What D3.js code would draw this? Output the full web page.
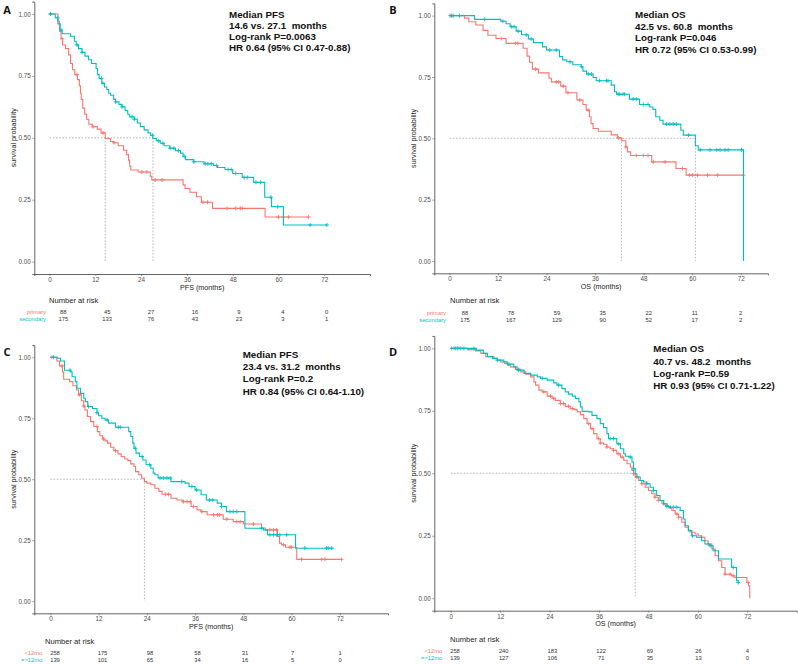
<!DOCTYPE html>
<html>
<head>
<meta charset="utf-8">
<script src="https://cdnjs.cloudflare.com/ajax/libs/d3/7.8.5/d3.min.js"></script>
<style>
  body { margin: 0; background: #fff; }
  svg { display: block; }
</style>
</head>
<body>
<svg id="chart" width="798" height="664"></svg>
<script>
// ---- shared ticks ----
const xTicks = [0, 12, 24, 36, 48, 60, 72];
const yTicks = [0, 0.25, 0.5, 0.75, 1];
const riskTimes = [0, 12, 24, 36, 48, 60, 72];

// ---- Panel A: PFS, primary vs secondary ----
const aPrimary = [[0,1],[2.2,0.97],[2.6,0.93],[3.0,0.9],[3.4,0.875],[4.2,0.86],[5.0,0.835],[5.5,0.8],[6.0,0.775],[6.6,0.755],[7.3,0.735],[7.8,0.71],[8.1,0.68],[8.3,0.655],[8.7,0.62],[9.2,0.595],[9.7,0.575],[10.3,0.555],[11.2,0.545],[12.5,0.535],[13.5,0.52],[14.6,0.497],[16.0,0.485],[16.8,0.48],[18.0,0.468],[19.4,0.45],[20.2,0.432],[20.7,0.41],[21.0,0.385],[21.3,0.37],[23.2,0.362],[26.4,0.345],[26.8,0.33],[35.0,0.31],[35.5,0.295],[36.8,0.28],[38.5,0.262],[39.8,0.24],[42.7,0.215],[56.5,0.18]];
const aPrimaryCens = [0.3,3.3,7.2,11.4,14.0,16.9,24.2,25.5,27.7,29.5,40.2,41.4,46.5,48.8,50.0,50.5,60.0,61.3,62.6,67.9];
const aSecondary = [[0,1],[1.5,0.985],[2.2,0.96],[2.8,0.935],[3.3,0.92],[5.5,0.91],[6.5,0.89],[7.0,0.875],[7.6,0.86],[8.5,0.845],[9.3,0.83],[10.2,0.815],[11.0,0.8],[12.2,0.78],[12.6,0.755],[13.0,0.74],[13.7,0.72],[14.4,0.705],[15.0,0.695],[15.5,0.68],[16.0,0.672],[16.8,0.655],[17.3,0.645],[18.2,0.635],[19.0,0.625],[19.8,0.61],[20.5,0.595],[21.0,0.585],[22.2,0.575],[23.0,0.56],[23.8,0.545],[24.8,0.532],[25.8,0.52],[26.5,0.51],[27.1,0.497],[28.0,0.488],[29.0,0.478],[30.0,0.468],[31.5,0.458],[33.0,0.448],[34.3,0.438],[35.0,0.425],[35.6,0.412],[37.8,0.403],[40.5,0.395],[43.0,0.388],[44.0,0.38],[46.0,0.372],[48.0,0.356],[50.5,0.34],[53.5,0.32],[56.4,0.26],[58.2,0.222],[61.3,0.148]];
const aSecondaryCens = [0.2,2.1,3.0,7.2,8.5,13.6,14.0,17.3,19.0,21.6,22.2,27.0,28.6,29.7,31.6,32.6,33.8,35.3,37.8,40.8,41.5,42.4,43.8,46.8,47.6,48.8,51.0,51.8,54.1,55.3,58.0,59.8,68.3,72.7];
const aRiskPrimary = [88, 45, 27, 16, 9, 4, 0];
const aRiskSecondary = [175, 133, 76, 43, 23, 3, 1];

// ---- Panel B: OS, primary vs secondary ----
const bPrimary = [[0,1],[3.7,0.99],[4.8,0.975],[6.5,0.962],[8.3,0.94],[9.5,0.92],[11.5,0.907],[14.0,0.887],[18.2,0.867],[19.2,0.835],[19.8,0.81],[20.5,0.782],[22.0,0.767],[24.6,0.745],[25.2,0.73],[27.5,0.713],[28.8,0.686],[31.5,0.656],[33.0,0.638],[33.8,0.615],[34.6,0.588],[35.0,0.56],[35.5,0.54],[36.8,0.529],[40.0,0.514],[41.5,0.502],[42.6,0.49],[43.6,0.465],[44.0,0.445],[44.8,0.43],[50.0,0.404],[56.0,0.377],[58.5,0.35]];
const bPrimaryCens = [0.2,12.8,16.3,16.9,21.3,26.4,27.0,28.1,29.3,32.2,34.3,41.8,43.6,46.2,47.9,49.1,50.4,53.3,57.6,59.3,60.1,61.3,63.8,66.3,72.7];
const bSecondary = [[0,1],[6.2,0.985],[12.7,0.977],[14.0,0.967],[15.0,0.955],[16.5,0.937],[17.8,0.922],[19.5,0.905],[20.8,0.89],[23.0,0.873],[24.0,0.86],[27.2,0.833],[28.0,0.82],[29.0,0.812],[30.5,0.8],[32.6,0.792],[33.0,0.774],[33.9,0.762],[35.5,0.748],[36.3,0.735],[40.0,0.717],[40.8,0.69],[41.3,0.68],[44.5,0.66],[47.0,0.638],[49.5,0.628],[50.3,0.618],[51.0,0.588],[52.0,0.574],[52.8,0.558],[57.2,0.533],[57.8,0.513],[60.8,0.47],[61.5,0.453],[72.7,0]];
const bSecondaryCens = [0.5,0.9,2.5,8.7,13.2,15.3,16.0,17.0,19.0,20.2,24.8,26.4,29.8,32.6,34.3,35.1,37.1,38.8,39.2,41.7,42.1,42.9,43.3,45.4,46.2,47.9,49.1,53.7,54.5,55.3,56.1,59.1,62.0,64.4,66.1,66.9,68.1,68.9,72.2];
const bRiskPrimary = [88, 78, 59, 35, 22, 11, 2];
const bRiskSecondary = [175, 167, 129, 90, 52, 17, 2];

// ---- Panel C: PFS, <12mo vs =>12mo ----
const cEarly = [[0,1],[1.6,0.985],[2.3,0.965],[3.0,0.94],[3.3,0.91],[4.8,0.9],[5.6,0.883],[6.5,0.866],[7.0,0.846],[7.7,0.822],[8.3,0.8],[8.6,0.784],[9.2,0.757],[10.0,0.736],[10.8,0.716],[11.7,0.695],[12.3,0.678],[13.0,0.665],[13.6,0.657],[14.2,0.648],[15.0,0.631],[15.8,0.617],[16.8,0.604],[17.6,0.593],[18.5,0.583],[19.3,0.576],[20.0,0.563],[20.8,0.552],[21.2,0.531],[22.0,0.518],[22.7,0.504],[23.4,0.49],[24.0,0.484],[25.0,0.477],[26.0,0.463],[27.0,0.45],[27.8,0.438],[30.0,0.422],[31.5,0.415],[32.8,0.408],[35.0,0.388],[36.5,0.374],[37.5,0.367],[39.0,0.354],[43.0,0.336],[45.5,0.326],[48.0,0.316],[52.5,0.3],[53.5,0.292],[56.5,0.265],[57.0,0.238],[57.5,0.231],[58.5,0.221],[61.3,0.171]];
const cEarlyCens = [0.4,2.9,7.2,8.3,11.6,13.2,16.2,28.6,29.4,33.1,34.0,34.8,35.6,37.7,40.6,41.6,42.1,43.9,46.4,47.2,50.5,54.6,55.5,56.3,58.0,59.6,60.0,62.5,67.5,68.3,72.4];
const cLate = [[0,1],[1.8,0.996],[2.5,0.985],[3.5,0.947],[5.0,0.94],[5.4,0.92],[6.2,0.9],[6.6,0.873],[7.5,0.852],[8.3,0.832],[8.7,0.818],[9.3,0.798],[10.5,0.79],[11.6,0.773],[12.0,0.76],[12.8,0.75],[13.6,0.743],[14.5,0.73],[16.2,0.713],[19.5,0.695],[20.0,0.675],[20.5,0.648],[20.8,0.627],[21.3,0.607],[22.2,0.593],[23.0,0.579],[23.8,0.559],[25.0,0.545],[25.6,0.525],[26.0,0.518],[26.8,0.505],[30.0,0.49],[33.5,0.484],[34.5,0.47],[36.0,0.456],[37.5,0.436],[38.8,0.415],[41.5,0.402],[42.6,0.388],[43.8,0.367],[48.4,0.299],[53.0,0.292],[54.0,0.272],[61.0,0.217]];
const cLateCens = [0.8,4.9,9.5,11.6,14.1,16.9,17.4,21.1,22.8,24.7,27.3,28.1,29.0,29.8,32.7,35.2,36.4,39.6,40.4,42.6,44.7,45.5,46.4,52.6,54.6,55.5,56.3,57.1,58.8,63.3,68.7,69.1,70.0];
const cRiskEarly = [258, 175, 98, 58, 31, 7, 1];
const cRiskLate = [139, 101, 65, 34, 16, 5, 0];

// ---- Panel D: OS, <12mo vs =>12mo ----
const dEarly = [[0,1],[4.0,0.995],[6.0,0.99],[7.3,0.98],[8.5,0.967],[10.5,0.96],[11.3,0.953],[12.1,0.946],[13.0,0.94],[13.8,0.933],[14.5,0.926],[15.7,0.916],[17.0,0.906],[18.2,0.897],[19.4,0.886],[20.2,0.866],[20.6,0.853],[21.4,0.833],[22.2,0.826],[23.4,0.809],[24.6,0.8],[25.4,0.792],[26.6,0.779],[27.8,0.768],[29.0,0.759],[29.9,0.755],[30.7,0.746],[31.5,0.735],[32.3,0.719],[33.1,0.699],[33.9,0.679],[34.7,0.659],[35.5,0.639],[36.3,0.621],[37.1,0.616],[37.9,0.605],[38.7,0.598],[39.5,0.592],[40.3,0.578],[41.2,0.565],[42.0,0.552],[42.8,0.538],[43.6,0.525],[44.0,0.511],[44.4,0.498],[44.8,0.485],[45.6,0.471],[46.4,0.458],[47.2,0.444],[48.0,0.431],[48.8,0.418],[49.6,0.404],[50.4,0.391],[51.3,0.378],[52.1,0.371],[52.9,0.361],[53.7,0.351],[54.5,0.337],[55.3,0.324],[56.1,0.304],[56.9,0.284],[57.7,0.27],[58.5,0.264],[59.3,0.257],[60.1,0.25],[60.9,0.244],[61.7,0.23],[62.5,0.217],[63.4,0.197],[64.2,0.17],[65.0,0.15],[65.8,0.123],[66.6,0.096],[68.2,0.09],[69.0,0.083],[71.9,0.063],[72.3,0.05],[72.6,0.0]];
const dEarlyCens = [0.2,0.8,2.0,16.5,22.6,24.2,25.0,26.6,27.4,28.6,29.5,33.5,34.3,35.9,36.3,37.9,39.5,40.8,41.6,44.4,45.2,46.4,49.6,50.4,51.7,52.5,54.9,55.3,58.1,60.9,62.5,66.6,67.8,68.6,72.2];
const dLate = [[0,1],[6.2,0.993],[7.9,0.98],[8.9,0.967],[10.1,0.96],[11.3,0.953],[12.9,0.946],[13.7,0.937],[15.3,0.926],[16.1,0.913],[17.8,0.9],[19.4,0.893],[21.0,0.886],[21.8,0.88],[23.4,0.873],[25.0,0.862],[25.8,0.853],[27.0,0.839],[27.8,0.826],[28.6,0.817],[29.5,0.809],[30.3,0.8],[31.1,0.786],[31.5,0.766],[31.9,0.748],[33.5,0.746],[34.3,0.732],[35.5,0.719],[36.3,0.699],[37.1,0.683],[37.9,0.659],[38.3,0.639],[40.3,0.618],[41.2,0.598],[42.0,0.578],[42.4,0.568],[43.2,0.565],[44.0,0.545],[44.4,0.518],[44.8,0.498],[45.2,0.485],[46.0,0.471],[46.8,0.465],[47.6,0.458],[48.4,0.444],[49.2,0.431],[50.0,0.411],[50.8,0.391],[51.7,0.378],[52.5,0.367],[53.3,0.364],[55.7,0.351],[56.5,0.317],[56.9,0.29],[57.7,0.27],[58.5,0.25],[59.7,0.244],[60.9,0.23],[61.7,0.217],[62.9,0.21],[63.7,0.19],[65.0,0.157],[68.2,0.123],[69.4,0.07],[69.8,0.063]];
const dLateCens = [1.2,1.6,2.4,3.2,5.6,11.3,14.1,16.5,22.2,26.2,38.7,39.5,40.8,43.6,44.4,47.6,49.2,52.5,53.3,54.1,54.9,58.7,63.0,68.6,69.8];
const dRiskEarly = [258, 240, 183, 122, 69, 26, 4];
const dRiskLate = [139, 127, 106, 71, 35, 13, 0];

// ---- colours ----
const RED = '#F8766D', CYAN = '#00BFC4';

// ---- panel layout ----
const panels = [
  { letter: 'A', letterXY: [7, 10], xTitle: 'PFS (months)',
    box: { left: 34.3, right: 370, top: 1.6, bottom: 274 }, xDomain: [-4, 84],
    curves: [
      { steps: aPrimary, cens: aPrimaryCens, end: 67.9, color: RED },
      { steps: aSecondary, cens: aSecondaryCens, end: 72.7, color: CYAN }],
    medians: [14.6, 27.1],
    note: ['Median PFS', '14.6 vs. 27.1  months', 'Log-rank P=0.0063', 'HR 0.64 (95% CI 0.47-0.88)'],
    noteXY: [229, 14.9], noteStep: 11,
    risk: { title: [49, 300], range: [63.3, 326.7], rows: [312, 319.3], labelX: 46,
      labels: ['primary', 'secondary'], values: [aRiskPrimary, aRiskSecondary] } },
  { letter: 'B', letterXY: [393, 10], xTitle: 'OS (months)',
    box: { left: 434.3, right: 768, top: 3.4, bottom: 273.3 }, xDomain: [-3.75, 78.75],
    curves: [
      { steps: bPrimary, cens: bPrimaryCens, end: 72.7, color: RED },
      { steps: bSecondary, cens: bSecondaryCens, end: 72.7, color: CYAN }],
    medians: [42.5, 60.8],
    note: ['Median OS', '42.5 vs. 60.8  months', 'Log-rank P=0.046', 'HR 0.72 (95% CI 0.53-0.99)'],
    noteXY: [635, 14.9], noteStep: 11.5,
    risk: { title: [450, 300.7], range: [465, 740.7], rows: [313.3, 320.3], labelX: 446,
      labels: ['primary', 'secondary'], values: [bRiskPrimary, bRiskSecondary] } },
  { letter: 'C', letterXY: [7, 352], xTitle: 'PFS (months)',
    box: { left: 34.3, right: 388, top: 345.1, bottom: 613.3 }, xDomain: [-4, 84],
    curves: [
      { steps: cEarly, cens: cEarlyCens, end: 72.4, color: RED },
      { steps: cLate, cens: cLateCens, end: 70.4, color: CYAN }],
    medians: [23.4],
    note: ['Median PFS', '23.4 vs. 31.2  months', 'Log-rank P=0.2', 'HR 0.84 (95% CI 0.64-1.10)'],
    noteXY: [242.7, 354.5], noteStep: 12.2,
    risk: { title: [45, 641], range: [55, 340], rows: [652.7, 660], labelX: 42.3,
      labels: ['<12mo', '=>12mo'], values: [cRiskEarly, cRiskLate] } },
  { letter: 'D', letterXY: [393, 352], xTitle: 'OS (months)',
    box: { left: 434.3, right: 796.7, top: 335.9, bottom: 610.7 }, xDomain: [-4, 84],
    curves: [
      { steps: dEarly, cens: dEarlyCens, end: 72.6, color: RED },
      { steps: dLate, cens: dLateCens, end: 70.2, color: CYAN }],
    medians: [44.8],
    note: ['Median OS', '40.7 vs. 48.2  months', 'Log-rank P=0.59', 'HR 0.93 (95% CI 0.71-1.22)'],
    noteXY: [653.3, 348.8], noteStep: 12.2,
    risk: { title: [450, 639], range: [455, 747.3], rows: [651, 658], labelX: 442.3,
      labels: ['<12mo', '=>12mo'], values: [dRiskEarly, dRiskLate] } }
];

const svg = d3.select('#chart');
const tickFont = '"Liberation Sans", Arial, sans-serif';
const noteFont = '"Liberation Sans", Arial, sans-serif';
const letterFont = '"Open Sans", "Noto Sans", sans-serif';

function survAt(steps, t) {
  let s = 1;
  steps.forEach(d => { if (d[0] <= t) s = d[1]; });
  return s;
}

function drawPanel(p) {
  const g = svg.append('g').attr('class', 'panel');
  const b = p.box;
  const x = d3.scaleLinear().domain(p.xDomain).range([b.left, b.right]);
  const y = d3.scaleLinear().domain([-0.05, 1.05]).range([b.bottom, b.top]);

  // axes
  const xAxis = g.append('g').attr('transform', `translate(0,${b.bottom})`)
    .call(d3.axisBottom(x).tickValues(xTicks).tickSize(2).tickPadding(1.5));
  const yAxis = g.append('g').attr('transform', `translate(${b.left},0)`)
    .call(d3.axisLeft(y).tickValues(yTicks).tickSize(2).tickPadding(1.5).tickFormat(d3.format('.2f')));
  [xAxis, yAxis].forEach(a => {
    a.select('.domain').attr('stroke', '#555').attr('stroke-width', 0.9);
    a.selectAll('.tick line').attr('stroke', '#555').attr('stroke-width', 0.6);
    a.selectAll('.tick text').attr('fill', '#4d4d4d').style('font-family', tickFont).style('font-size', '6.3px');
  });

  // axis titles
  g.append('text').attr('x', (b.left + b.right) / 2).attr('y', b.bottom + 15.5)
    .attr('text-anchor', 'middle').style('font-family', tickFont).style('font-size', '7.2px')
    .attr('fill', '#222').text(p.xTitle);
  const yMid = (y(0) + y(1)) / 2;
  g.append('text').attr('transform', `translate(${b.left - 18},${yMid}) rotate(-90)`)
    .attr('text-anchor', 'middle').style('font-family', tickFont).style('font-size', '7.2px')
    .attr('fill', '#222').text('survival probability');

  // median guide lines
  const maxMed = d3.max(p.medians);
  g.append('line').attr('x1', x(0)).attr('x2', x(maxMed)).attr('y1', y(0.5)).attr('y2', y(0.5))
    .attr('stroke', '#888').attr('stroke-width', 0.6).attr('stroke-dasharray', '1.6,1.6');
  p.medians.forEach(m => {
    g.append('line').attr('x1', x(m)).attr('x2', x(m)).attr('y1', y(0.5)).attr('y2', y(0))
      .attr('stroke', '#888').attr('stroke-width', 0.6).attr('stroke-dasharray', '1.6,1.6');
  });

  // survival curves
  const line = d3.line().x(d => x(d[0])).y(d => y(d[1])).curve(d3.curveStepAfter);
  p.curves.forEach(c => {
    const pts = c.steps.concat([[c.end, c.steps[c.steps.length - 1][1]]]);
    g.append('path').attr('d', line(pts)).attr('fill', 'none')
      .attr('stroke', c.color).attr('stroke-width', 1.1);
    g.selectAll(null).data(c.cens).enter().append('path')
      .attr('transform', t => `translate(${x(t)},${y(survAt(c.steps, t))})`)
      .attr('d', 'M-2,0H2M0,-2V2')
      .attr('stroke', c.color).attr('stroke-width', 0.9).attr('fill', 'none');
  });

  // annotation: one text block, one tspan per line
  const note = g.append('text')
    .style('font-family', noteFont).style('font-weight', 'bold')
    .style('font-size', '9.8px')
    .attr('fill', '#111').style('white-space', 'pre');
  note.selectAll('tspan').data(p.note).enter().append('tspan')
    .attr('x', p.noteXY[0]).attr('y', (d, i) => p.noteXY[1] + i * p.noteStep)
    .attr('dy', '0.36em').text(d => d);

  // panel letter
  g.append('text').attr('x', p.letterXY[0]).attr('y', p.letterXY[1]).attr('dy', '0.36em')
    .attr('text-anchor', 'middle')
    .style('font-family', letterFont)
    .style('font-weight', 'bold').style('font-size', '11px').attr('fill', '#111').text(p.letter);

  // risk table
  const r = p.risk;
  const rx = d3.scaleLinear().domain([0, 72]).range(r.range);
  g.append('text').attr('x', r.title[0]).attr('y', r.title[1]).attr('dy', '0.36em')
    .style('font-family', tickFont).style('font-size', '7.6px').attr('fill', '#222')
    .text('Number at risk');
  const colors = [RED, CYAN];
  r.values.forEach((vals, k) => {
    g.append('text').attr('x', r.labelX).attr('y', r.rows[k]).attr('dy', '0.36em')
      .attr('text-anchor', 'end').style('font-family', tickFont).style('font-size', '5.8px')
      .attr('fill', colors[k]).text(r.labels[k]);
    g.append('g').selectAll('text').data(vals).enter().append('text')
      .attr('x', (d, i) => rx(riskTimes[i])).attr('y', r.rows[k]).attr('dy', '0.36em')
      .attr('text-anchor', 'middle').style('font-family', tickFont).style('font-size', '5.8px')
      .attr('fill', '#333').text(d => d);
  });
}

panels.forEach(drawPanel);
</script>
</body>
</html>
